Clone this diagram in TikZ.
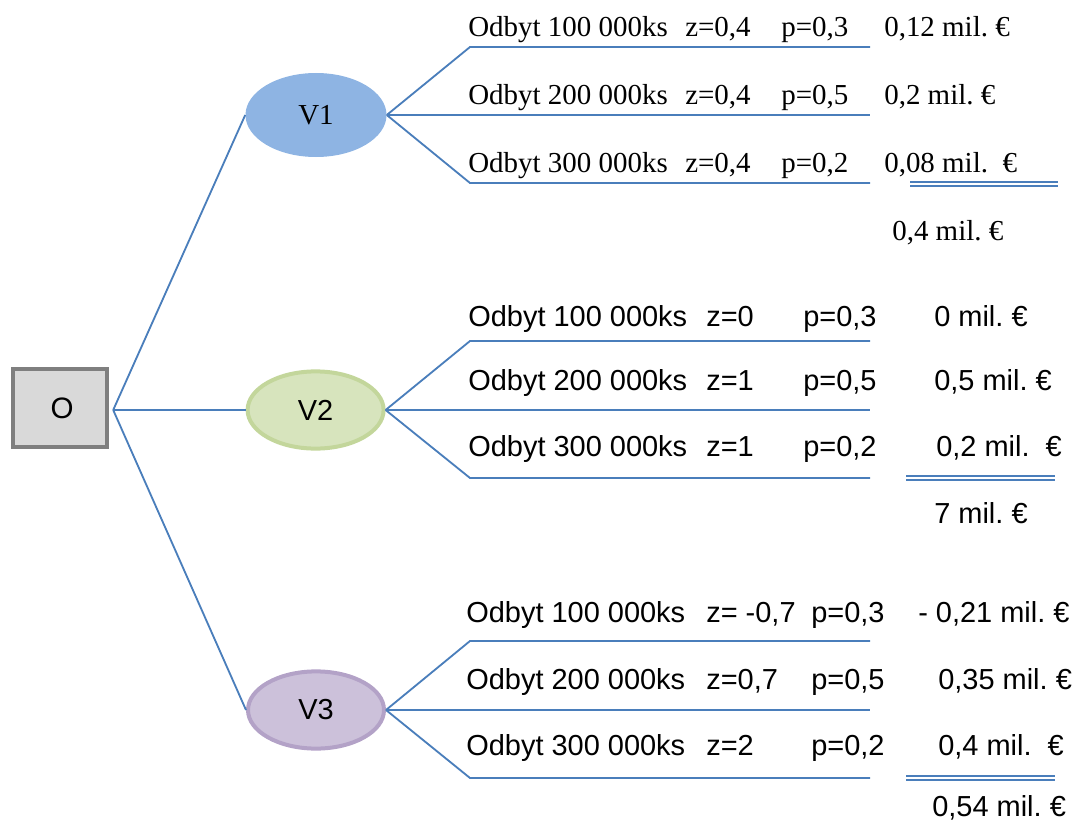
\documentclass[tikz,border=0pt]{standalone}
\usepackage{fontspec}
\setmainfont{Liberation Serif}
\setsansfont{Liberation Sans}
\usepackage{tikz}
\usetikzlibrary{shapes.geometric}
\frenchspacing

\definecolor{linkblue}{HTML}{4A7EBB}
\definecolor{boxgray}{HTML}{D9D9D9}
\definecolor{boxedge}{HTML}{7F7F7F}
\definecolor{vone}{HTML}{8EB4E3}
\definecolor{vtwo}{HTML}{D7E4BD}
\definecolor{vtwoedge}{HTML}{C3D69B}
\definecolor{vthree}{HTML}{CCC1DA}
\definecolor{vthreeedge}{HTML}{B3A2C7}

\tikzset{
  branch/.style={draw=linkblue, line width=1.3pt},
  sumline/.style={draw=linkblue, line width=0.0375cm, double=white, double distance=0.0625cm},
  serift/.style={anchor=base west, inner sep=0pt, font=\fontsize{20.6}{24}\selectfont},
  sanst/.style={anchor=base west, inner sep=0pt, font=\fontsize{20.6}{24}\selectfont\sffamily},
  variant/.style={ellipse, inner sep=0pt, minimum width=3.4cm, minimum height=1.93cm},
}

\begin{document}
\begin{tikzpicture}
\useasboundingbox (0cm,0cm) rectangle (26.9cm,-20.525cm);
% start and the three variants
\node[rectangle, draw=boxedge, fill=boxgray, line width=0.1cm, minimum width=2.35cm, minimum height=1.95cm, font=\fontsize{21}{24}\selectfont\sffamily] (O) at (1.5cm,-10.2cm) {\hspace{0.1cm}O};
\coordinate (Oout) at (2.83cm,-10.25cm);
\node[variant, fill=vone, minimum width=3.525cm, minimum height=2.1cm, font=\fontsize{20.6}{24}\selectfont] (V1) at (7.9cm,-2.875cm) {V1};
\node[variant, fill=vtwo, draw=vtwoedge, line width=0.1cm] (V2) at (7.89cm,-10.25cm) {\sffamily\fontsize{20.6}{24}\selectfont V2};
\node[variant, fill=vthree, draw=vthreeedge, line width=0.1cm] (V3) at (7.9cm,-17.75cm) {\sffamily\fontsize{20.6}{24}\selectfont V3};
\draw[branch] (Oout) -- (V1.west);
\draw[branch] (Oout) -- (V2.west);
\draw[branch] (Oout) -- (V3.west);

% branch corners and ends
\coordinate (k11) at (11.75cm,-1.175cm);  \coordinate (e11) at (21.75cm,-1.175cm);
\coordinate (e12) at (21.75cm,-2.875cm);
\coordinate (k13) at (11.75cm,-4.575cm);  \coordinate (e13) at (21.75cm,-4.575cm);
\coordinate (k21) at (11.75cm,-8.525cm);  \coordinate (e21) at (21.75cm,-8.525cm);
\coordinate (e22) at (21.75cm,-10.25cm);
\coordinate (k23) at (11.75cm,-11.95cm);  \coordinate (e23) at (21.75cm,-11.95cm);
\coordinate (k31) at (11.75cm,-16.025cm); \coordinate (e31) at (21.75cm,-16.025cm);
\coordinate (e32) at (21.75cm,-17.75cm);
\coordinate (k33) at (11.75cm,-19.45cm);  \coordinate (e33) at (21.75cm,-19.45cm);
\draw[branch] (V1.east) -- (k11) -- (e11);
\draw[branch] (V1.east) -- (e12);
\draw[branch] (V1.east) -- (k13) -- (e13);
\draw[branch] (V2.east) -- (k21) -- (e21);
\draw[branch] (V2.east) -- (e22);
\draw[branch] (V2.east) -- (k23) -- (e23);
\draw[branch] (V3.east) -- (k31) -- (e31);
\draw[branch] (V3.east) -- (e32);
\draw[branch] (V3.east) -- (k33) -- (e33);

% V1 rows
\node[serift] (r11) at (11.7cm,-0.925cm) {Odbyt 100 000ks};
\node[serift] (z11) at (17.125cm,-0.925cm) {z=0,4};
\node[serift] (p11) at (19.525cm,-0.925cm) {p=0,3};
\node[serift] (m11) at (22.1cm,-0.925cm) {0,12 mil. €};
\node[serift] (r12) at (11.7cm,-2.625cm) {Odbyt 200 000ks};
\node[serift] (z12) at (17.125cm,-2.625cm) {z=0,4};
\node[serift] (p12) at (19.525cm,-2.625cm) {p=0,5};
\node[serift] (m12) at (22.1cm,-2.625cm) {0,2 mil. €};
\node[serift] (r13) at (11.7cm,-4.3cm) {Odbyt 300 000ks};
\node[serift] (z13) at (17.125cm,-4.3cm) {z=0,4};
\node[serift] (p13) at (19.525cm,-4.3cm) {p=0,2};
\node[serift] (m13) at (22.1cm,-4.3cm) {0,08 mil.~~€};
\coordinate (s1a) at (22.75cm,-4.6cm); \coordinate (s1b) at (26.45cm,-4.6cm);
\draw[sumline] (s1a) -- (s1b);
\node[serift] (sum1) at (22.3cm,-6cm) {0,4 mil. €};

% V2 rows
\node[sanst] (r21) at (11.7cm,-8.15cm) {Odbyt 100 000ks};
\node[sanst] (z21) at (17.65cm,-8.15cm) {z=0};
\node[sanst] (p21) at (20.075cm,-8.15cm) {p=0,3};
\node[sanst] (m21) at (23.35cm,-8.15cm) {0 mil. €};
\node[sanst] (r22) at (11.7cm,-9.75cm) {Odbyt 200 000ks};
\node[sanst] (z22) at (17.65cm,-9.75cm) {z=1};
\node[sanst] (p22) at (20.075cm,-9.75cm) {p=0,5};
\node[sanst] (m22) at (23.35cm,-9.75cm) {0,5 mil. €};
\node[sanst] (r23) at (11.7cm,-11.4cm) {Odbyt 300 000ks};
\node[sanst] (z23) at (17.65cm,-11.4cm) {z=1};
\node[sanst] (p23) at (20.075cm,-11.4cm) {p=0,2};
\node[sanst] (m23) at (23.4cm,-11.4cm) {0,2 mil.~~€};
\coordinate (s2a) at (22.65cm,-11.95cm); \coordinate (s2b) at (26.375cm,-11.95cm);
\draw[sumline] (s2a) -- (s2b);
\node[sanst] (sum2) at (23.35cm,-13.075cm) {7 mil. €};

% V3 rows
\node[sanst] (r31) at (11.65cm,-15.55cm) {Odbyt 100 000ks};
\node[sanst] (z31) at (17.65cm,-15.55cm) {z= -0,7};
\node[sanst] (p31) at (20.275cm,-15.55cm) {p=0,3};
\node[sanst] (m31) at (22.95cm,-15.55cm) {- 0,21 mil. €};
\node[sanst] (r32) at (11.65cm,-17.225cm) {Odbyt 200 000ks};
\node[sanst] (z32) at (17.65cm,-17.225cm) {z=0,7};
\node[sanst] (p32) at (20.275cm,-17.225cm) {p=0,5};
\node[sanst] (m32) at (23.45cm,-17.225cm) {0,35 mil. €};
\node[sanst] (r33) at (11.65cm,-18.875cm) {Odbyt 300 000ks};
\node[sanst] (z33) at (17.65cm,-18.875cm) {z=2};
\node[sanst] (p33) at (20.275cm,-18.875cm) {p=0,2};
\node[sanst] (m33) at (23.45cm,-18.875cm) {0,4 mil.~~€};
\coordinate (s3a) at (22.65cm,-19.45cm); \coordinate (s3b) at (26.375cm,-19.45cm);
\draw[sumline] (s3a) -- (s3b);
\node[sanst] (sum3) at (23.3cm,-20.4cm) {0,54 mil. €};
\end{tikzpicture}
\end{document}
